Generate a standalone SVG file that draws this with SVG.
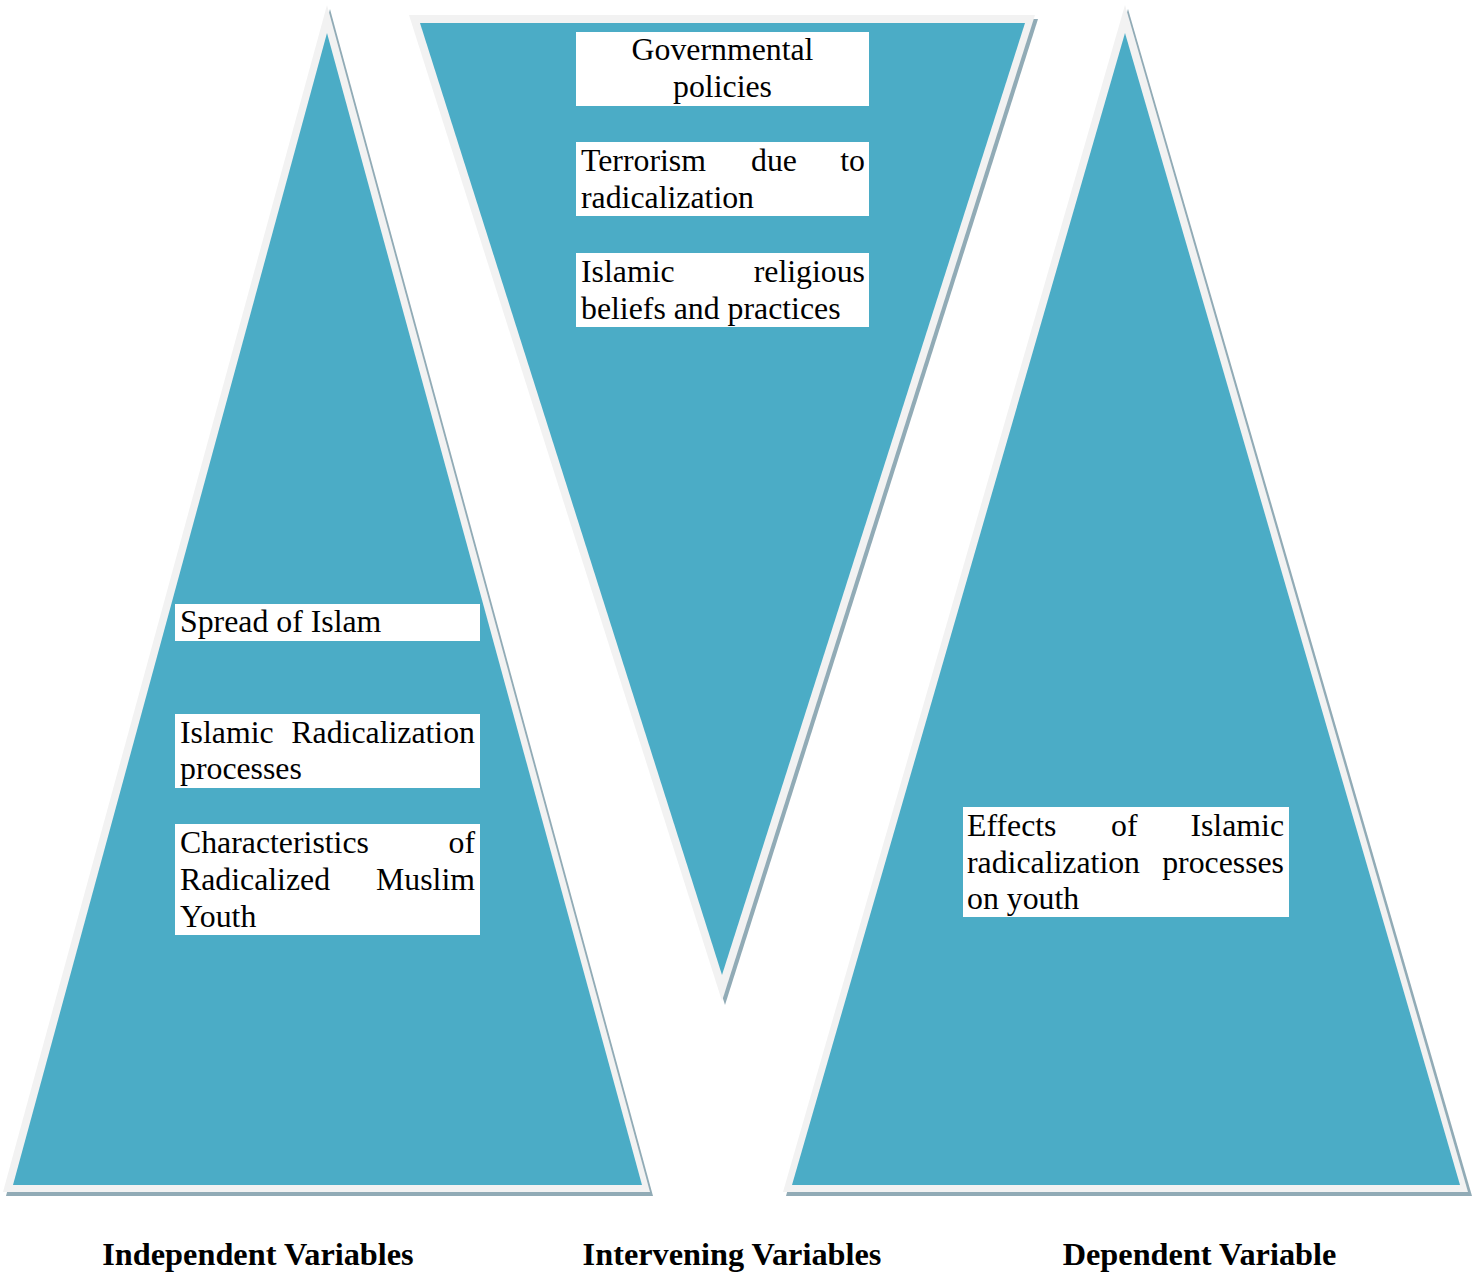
<svg xmlns="http://www.w3.org/2000/svg" width="1480" height="1276" viewBox="0 0 1480 1276">
  <style>
    .shadow { fill: #91abb6; }
    .rim { fill: #f2f2f2; }
    .body { fill: #4bacc6; }
    .box { fill: #ffffff; }
    .t { font-family: "Liberation Serif", "Times New Roman", serif; font-size: 31.8px; fill: #000000; }
    .end { text-anchor: end; }
    .mid { text-anchor: middle; }
    .lbl { font-family: "Liberation Serif", "Times New Roman", serif; font-size: 32.3px; font-weight: bold; fill: #000000; text-anchor: middle; }
  </style>

  <!-- Left upright triangle: independent variables -->
  <g id="independent">
    <polygon class="shadow" points="330,9 6,1196 653,1196"/>
    <polygon class="rim" points="327,5 3,1192 650,1192"/>
    <polygon class="body" points="327,33 13,1185 642,1185"/>
  </g>

  <!-- Middle inverted triangle: intervening variables -->
  <g id="intervening">
    <polygon class="shadow" points="412,19 1038,19 725,1005"/>
    <polygon class="rim" points="409,15 1035,15 722,1001"/>
    <polygon class="body" points="420,23 1025,23 722,975"/>
  </g>

  <!-- Right upright triangle: dependent variable -->
  <g id="dependent">
    <polygon class="shadow" points="1128,9 786,1196 1472,1196"/>
    <polygon class="rim" points="1125,5 783,1192 1468,1192"/>
    <polygon class="body" points="1125,33 792,1185 1460,1185"/>
  </g>

  <!-- Intervening variable boxes -->
  <g id="governmental-policies">
    <rect class="box" x="576" y="32" width="293" height="74"/>
    <text class="t mid" x="722.5" y="60">Governmental</text>
    <text class="t mid" x="722.5" y="97">policies</text>
  </g>
  <g id="terrorism">
    <rect class="box" x="576" y="142" width="293" height="74"/>
    <text class="t" x="581" y="171">Terrorism</text>
    <text class="t" x="751" y="171">due</text>
    <text class="t end" x="865" y="171">to</text>
    <text class="t" x="581" y="208">radicalization</text>
  </g>
  <g id="religious-beliefs">
    <rect class="box" x="576" y="253" width="293" height="74"/>
    <text class="t" x="581" y="282">Islamic</text>
    <text class="t end" x="865" y="282">religious</text>
    <text class="t" x="581" y="319">beliefs and practices</text>
  </g>

  <!-- Independent variable boxes -->
  <g id="spread-of-islam">
    <rect class="box" x="175" y="604" width="305" height="37"/>
    <text class="t" x="180" y="632">Spread of Islam</text>
  </g>
  <g id="radicalization-processes">
    <rect class="box" x="175" y="714" width="305" height="74"/>
    <text class="t" x="180" y="743">Islamic</text>
    <text class="t end" x="475" y="743">Radicalization</text>
    <text class="t" x="180" y="779">processes</text>
  </g>
  <g id="characteristics">
    <rect class="box" x="175" y="824" width="305" height="111"/>
    <text class="t" x="180" y="853">Characteristics</text>
    <text class="t end" x="475" y="853">of</text>
    <text class="t" x="180" y="890">Radicalized</text>
    <text class="t end" x="475" y="890">Muslim</text>
    <text class="t" x="180" y="927">Youth</text>
  </g>

  <!-- Dependent variable box -->
  <g id="effects">
    <rect class="box" x="963" y="807" width="326" height="110"/>
    <text class="t" x="967" y="836">Effects</text>
    <text class="t" x="1111" y="836">of</text>
    <text class="t end" x="1284" y="836">Islamic</text>
    <text class="t" x="967" y="873">radicalization</text>
    <text class="t end" x="1284" y="873">processes</text>
    <text class="t" x="967" y="909">on youth</text>
  </g>

  <!-- Column captions -->
  <g id="captions">
    <text class="lbl" x="258" y="1265">Independent Variables</text>
    <text class="lbl" x="732" y="1265">Intervening Variables</text>
    <text class="lbl" x="1199.5" y="1265">Dependent Variable</text>
  </g>

  <g id="connectors"/>
</svg>
